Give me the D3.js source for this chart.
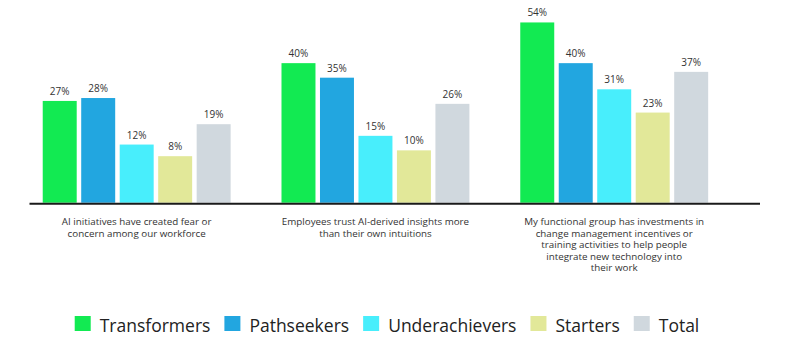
<!DOCTYPE html>
<html>
<head>
<meta charset="utf-8">
<script src="https://cdn.jsdelivr.net/npm/d3@7"></script>
<style>
  html, body { margin: 0; padding: 0; background: #ffffff; }
  svg { display: block; font-family: "Open Sans", "Noto Sans", sans-serif; }
</style>
</head>
<body>
<svg id="chart" width="800" height="355"></svg>
<script>
const categories = [
  ["AI initiatives have created fear or", "concern among our workforce"],
  ["Employees trust AI-derived insights more", "than their own intuitions"],
  ["My functional group has investments in", "change management incentives or", "training activities to help people", "integrate new technology into", "their work"]
];
const seriesNames = ["Transformers", "Pathseekers", "Underachievers", "Starters", "Total"];
const seriesColors = ["#12ea52", "#22a6e0", "#48eefc", "#e2e899", "#d0d8de"];
const transformers = [27, 40, 54];
const pathseekers = [28, 35, 40];
const underachievers = [12, 15, 31];
const starters = [8, 10, 23];
const total = [19, 26, 37];
const seriesValues = [transformers, pathseekers, underachievers, starters, total];

const svg = d3.select("#chart");
const baseY = 202.7;

const x0 = d3.scaleBand()
  .domain(d3.range(categories.length))
  .range([17.3, 733.6])
  .paddingInner(0.213)
  .paddingOuter(0.1065);

const x1 = d3.scaleBand()
  .domain(seriesNames)
  .range([0, x0.bandwidth()])
  .paddingInner(0.117)
  .paddingOuter(0);

const y = d3.scaleLinear().domain([-8, 60]).range([baseY, 5]);

const groups = svg.selectAll("g.grp")
  .data(categories)
  .join("g")
  .attr("class", "grp")
  .attr("transform", (d, i) => `translate(${x0(i)},0)`);

groups.each(function(cat, gi) {
  const g = d3.select(this);
  const rows = seriesNames.map((s, si) => ({ s, si, v: seriesValues[si][gi] }));
  g.selectAll("rect")
    .data(rows)
    .join("rect")
    .attr("x", d => x1(d.s))
    .attr("width", x1.bandwidth())
    .attr("y", d => y(d.v))
    .attr("height", d => y(y.domain()[0]) - y(d.v))
    .attr("fill", d => seriesColors[d.si]);
  g.selectAll("text.val")
    .data(rows)
    .join("text")
    .attr("class", "val")
    .attr("x", d => x1(d.s) + x1.bandwidth() / 2)
    .attr("y", d => y(d.v) - 6)
    .attr("text-anchor", "middle")
    .attr("font-size", 10)
    .attr("fill", "#333")
    .text(d => d.v + "%");
  const t = g.append("text")
    .attr("text-anchor", "middle")
    .attr("font-size", 9.8)
    .attr("fill", "#333");
  cat.forEach((line, li) => {
    t.append("tspan")
      .attr("x", x0.bandwidth() / 2)
      .attr("y", 225 + li * 11.5)
      .text(line);
  });
});

// baseline
svg.append("line")
  .attr("x1", 29.5).attr("x2", 760)
  .attr("y1", baseY + 1).attr("y2", baseY + 1)
  .attr("stroke", "#1a1a1a").attr("stroke-width", 2);

// legend
const legend = svg.append("g");
let lx = 0;
const items = [];
seriesNames.forEach((name, i) => {
  const it = legend.append("g");
  it.append("rect").attr("x", 0).attr("y", 316).attr("width", 16).attr("height", 15).attr("fill", seriesColors[i]);
  const tx = it.append("text").attr("x", 25).attr("y", 331.5).attr("font-size", 17.5).attr("fill", "#222").text(name);
  const w = 25 + tx.node().getComputedTextLength();
  it.attr("transform", `translate(${lx},0)`);
  lx += w + 14;
});
const legendW = lx - 14;
legend.attr("transform", `translate(${387 - legendW / 2},0)`);
</script>
</body>
</html>
